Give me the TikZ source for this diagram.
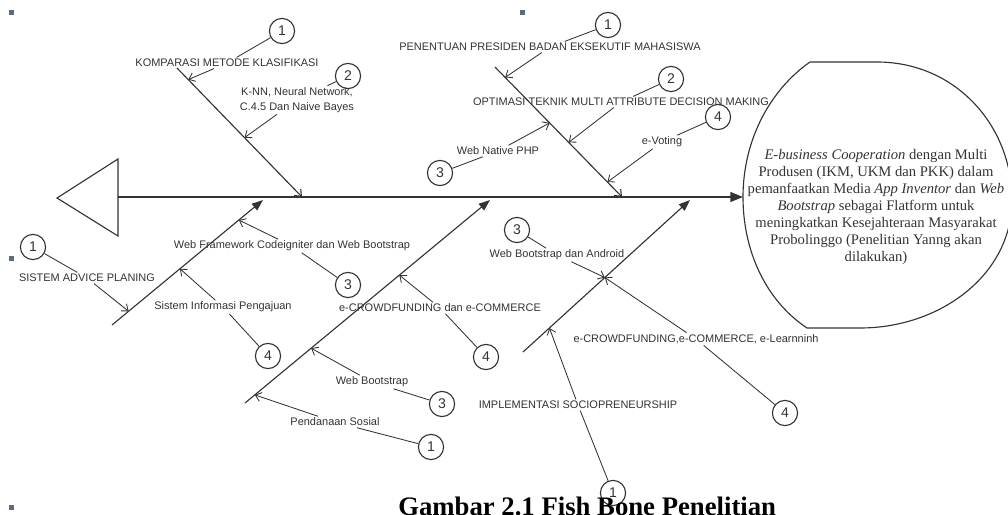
\documentclass[tikz,border=0pt]{standalone}
\usepackage{fontspec}
\setmainfont{Liberation Serif}
\setsansfont{Liberation Sans}
\usetikzlibrary{arrows.meta}
\definecolor{ink}{HTML}{333333}
\definecolor{dot}{HTML}{5E6A80}
\begin{document}
\begin{tikzpicture}[x=0.025cm,y=-0.025cm,
  lbl/.style={font=\sffamily\fontsize{7.8}{10.7}\selectfont,text=ink,inner sep=1pt,align=center},
  num/.style={draw=ink,circle,line width=.8pt,minimum size=0.63cm,inner sep=0pt,font=\sffamily\fontsize{10}{10}\selectfont,text=ink},
  bone/.style={draw=ink,line width=.8pt},
  lead/.style={draw=ink,line width=.6pt},
  cause/.style={lead,-{Straight Barb[length=4pt,width=6.5pt]}}]
\useasboundingbox (0,0) rectangle (1008,514);
\fill[dot] (9,10) rectangle (14,15);
\fill[dot] (520,10) rectangle (525,15);
\fill[dot] (9,256) rectangle (14,261);
\fill[dot] (9,505) rectangle (14,510);
\draw[bone] (118,159) -- (57,198) -- (118,236) -- cycle;
\draw[bone] (810,62) -- (877,62) .. controls (955,62) and (1012,125) .. (1012,200)
  .. controls (1012,275) and (940,328) .. (860,328) -- (807,328)
  .. controls (765,300) and (743,250) .. (743,197)
  .. controls (743,140) and (770,90) .. (810,62);
\coordinate (tl) at (118,197);
\coordinate (hl) at (743,197);
\node[font=\fontsize{10.4}{12}\selectfont,align=center,text=ink,inner sep=0pt] (head) at (876,207)
  {\textit{E-business Cooperation} dengan Multi\\Produsen (IKM, UKM dan PKK) dalam\\pemanfaatkan Media \textit{App Inventor} dan \textit{Web}\\\textit{Bootstrap} sebagai Flatform untuk\\meningkatkan Kesejahteraan Masyarakat\\Probolinggo (Penelitian Yanng akan\\dilakukan)};
\draw[draw=ink,line width=1.1pt,-{Triangle[length=9pt,width=7pt]}] (tl) -- (hl);

\coordinate (ka) at (177,68);
\coordinate (kb) at (302,197);
\draw[bone,-{Straight Barb[length=4pt,width=6.5pt]}] (ka) -- coordinate[pos=.09] (ka1) coordinate[pos=.54] (ka2) (kb);
\node[lbl] (kom) at (227,63) {KOMPARASI METODE KLASIFIKASI};
\node[lbl] (knn) at (297,100) {K-NN, Neural Network,\\C.4.5 Dan Naive Bayes};
\node[num] (kn1) at (282,31) {1};
\node[num] (kn2) at (348,76) {2};
\draw[lead] (kn1) -- (kom);
\draw[cause] (kom) -- (ka1);
\draw[lead] (kn2) -- (knn);
\draw[cause] (knn) -- (ka2);

\coordinate (pa) at (495,67);
\coordinate (pb) at (622,197);
\draw[bone,-{Straight Barb[length=4pt,width=6.5pt]}] (pa) -- coordinate[pos=.08] (pa1) coordinate[pos=.58] (pa2) coordinate[pos=.43] (pa3) coordinate[pos=.885] (pa4) (pb);
\node[lbl] (pen) at (550,47) {PENENTUAN PRESIDEN BADAN EKSEKUTIF MAHASISWA};
\node[lbl] (opt) at (621,102) {OPTIMASI TEKNIK MULTI ATTRIBUTE DECISION MAKING};
\node[lbl] (php) at (498,151) {Web Native PHP};
\node[lbl] (vot) at (662,142) {e-Voting};
\node[num] (pn1) at (608,25) {1};
\node[num] (pn2) at (671,79) {2};
\node[num] (pn3) at (440,173) {3};
\node[num] (pn4) at (718,117) {4};
\draw[lead] (pn1) -- (pen);
\draw[cause] (pen) -- (pa1);
\draw[lead] (pn2) -- (opt);
\draw[cause] (opt) -- (pa2);
\draw[lead] (pn3) -- (php);
\draw[cause] (php) -- (pa3);
\draw[lead] (pn4) -- (vot);
\draw[cause] (vot) -- (pa4);

\coordinate (sa) at (112,325);
\coordinate (sb) at (263,200);
\draw[bone,-{Triangle[length=8pt,width=6pt]}] (sa) -- coordinate[pos=.11] (sa1) coordinate[pos=.84] (sa2) coordinate[pos=.45] (sa3) (sb);
\node[lbl] (sis) at (87,278) {SISTEM ADVICE PLANING};
\node[lbl] (wfc) at (292,246) {Web Framework Codeigniter dan Web Bootstrap};
\node[lbl] (sip) at (223,307) {Sistem Informasi Pengajuan};
\node[num] (sn1) at (33,247) {1};
\node[num] (sn3) at (348,285) {3};
\node[num] (sn4) at (268,356) {4};
\draw[lead] (sn1) -- (sis);
\draw[cause] (sis) -- (sa1);
\draw[lead] (sn3) -- (wfc);
\draw[cause] (wfc) -- (sa2);
\draw[lead] (sn4) -- (sip);
\draw[cause] (sip) -- (sa3);

\coordinate (ea) at (245,403);
\coordinate (eb) at (490,200);
\draw[bone,-{Triangle[length=8pt,width=6pt]}] (ea) -- coordinate[pos=.04] (ea1) coordinate[pos=.27] (ea2) coordinate[pos=.63] (ea3) (eb);
\node[lbl] (ecd) at (440,308) {e-CROWDFUNDING dan e-COMMERCE};
\node[lbl] (wbs) at (372,382) {Web Bootstrap};
\node[lbl] (pds) at (335,422) {Pendanaan Sosial};
\node[num] (en4) at (486,357) {4};
\node[num] (en3) at (442,404) {3};
\node[num] (en1) at (431,447) {1};
\draw[lead] (en4) -- (ecd);
\draw[cause] (ecd) -- (ea3);
\draw[lead] (en3) -- (wbs);
\draw[cause] (wbs) -- (ea2);
\draw[lead] (en1) -- (pds);
\draw[cause] (pds) -- (ea1);

\coordinate (ia) at (523,352);
\coordinate (ib) at (690,200);
\draw[bone,-{Triangle[length=8pt,width=6pt]}] (ia) -- coordinate[pos=.49] (ia1) coordinate[pos=.158] (ia2) (ib);
\node[lbl] (wba) at (557,255) {Web Bootstrap dan Android};
\node[lbl] (ecl) at (696,339) {e-CROWDFUNDING,e-COMMERCE, e-Learnninh};
\node[lbl] (imp) at (578,405) {IMPLEMENTASI SOCIOPRENEURSHIP};
\node[num] (in3) at (517,230) {3};
\node[num] (in4) at (785,413) {4};
\node[num] (in1) at (613,493) {1};
\draw[lead] (in3) -- (wba);
\draw[cause] (wba) -- (ia1);
\draw[lead] (in4) -- (ecl);
\draw[cause] (ecl) -- (ia1);
\draw[lead] (in1) -- (imp);
\draw[cause] (imp) -- (ia2);

\node[font=\bfseries\fontsize{19}{19}\selectfont,anchor=base west,inner sep=0pt] (cap) at (398,515) {Gambar 2.1 Fish Bone Penelitian};
\end{tikzpicture}
\end{document}
